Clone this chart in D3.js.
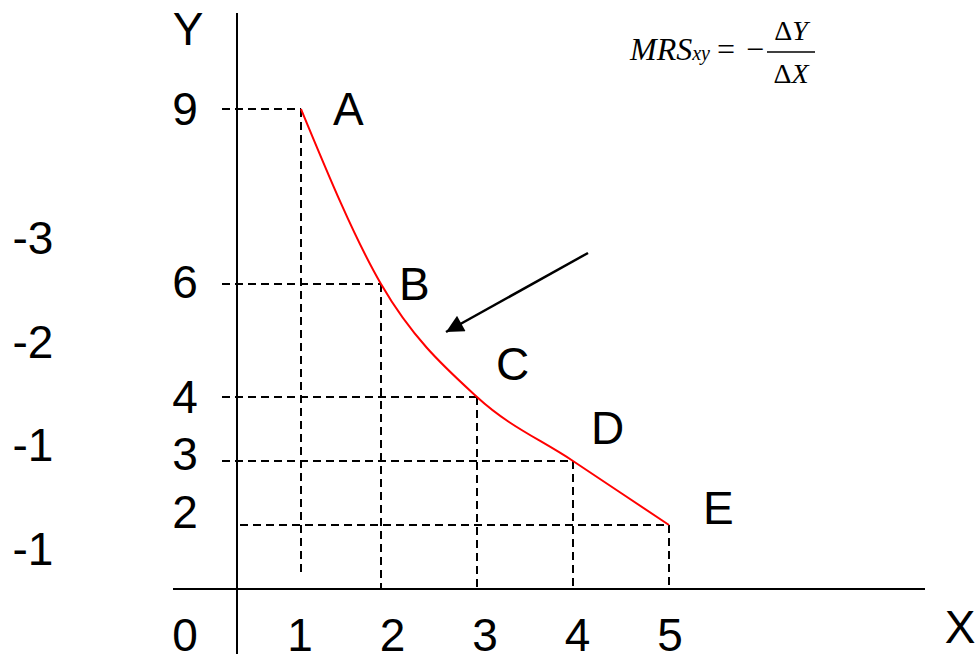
<!DOCTYPE html>
<html>
<head>
<meta charset="utf-8">
<script src="https://cdn.jsdelivr.net/npm/d3@7"></script>
<style>
  body { margin: 0; background: #fff; }
  svg { display: block; }
  text { font-family: "Liberation Sans", Arial, sans-serif; fill: #000; }
  text.serif { font-family: "Liberation Serif", "Times New Roman", serif; }
</style>
</head>
<body>
<svg id="chart" width="976" height="654"></svg>
<script>
// indifference curve points
const goodX = [1, 2, 3, 4, 5];
const goodY = [9, 6, 4, 3, 2];
const pointNames = ["A", "B", "C", "D", "E"];
// MRS between consecutive points
const mrsValues = ["-3", "-2", "-1", "-1"];
const xTickLabels = [1, 2, 3, 4, 5];
const yTickLabels = [9, 6, 4, 3, 2];

const svg = d3.select("#chart");

// hand drawn axes are not evenly spaced, so piecewise scales
const x = d3.scaleLinear()
    .domain([0, 1, 2, 3, 4, 5])
    .range([237, 301, 381, 477, 573, 669]);
const y = d3.scaleLinear()
    .domain([0, 2, 3, 4, 6, 9])
    .range([589, 525, 461, 397, 284, 109]);
// the tick labels sit on an even grid of their own
const xLab = d3.scaleLinear().domain([1, 5]).range([300, 670]);
const yLab = d3.scaleLinear().domain([2, 9]).range([528, 125]);
const mrsPos = d3.scaleLinear().domain([0, mrsValues.length - 1]).range([254, 565]);

const pts = goodX.map(function (d, i) {
    return {x: d, y: goodY[i], name: pointNames[i]};
});

// dashed guides
let guides = svg.append("g")
    .attr("stroke", "#000")
    .attr("stroke-width", 2)
    .attr("stroke-dasharray", "8,5");

guides.selectAll(".hguide")
    .data(pts)
    .enter().append("line")
    .attr("class", "hguide")
    .attr("x1", function (d) { return d.y == 2 ? x(0) + 3 : x(0) - 15; })
    .attr("x2", function (d) { return x(d.x); })
    .attr("y1", function (d) { return y(d.y); })
    .attr("y2", function (d) { return y(d.y); });

guides.selectAll(".vguide")
    .data(pts)
    .enter().append("line")
    .attr("class", "vguide")
    .attr("x1", function (d) { return x(d.x); })
    .attr("x2", function (d) { return x(d.x); })
    .attr("y1", function (d) { return y(d.y); })
    .attr("y2", function (d) { return d.x == 1 ? y(0) - 17 : y(0); });

// axes
svg.append("line")
    .attr("x1", x(0)).attr("x2", x(0))
    .attr("y1", 13).attr("y2", 654)
    .attr("stroke", "#000").attr("stroke-width", 2);
svg.append("line")
    .attr("x1", 173).attr("x2", 925)
    .attr("y1", y(0)).attr("y2", y(0))
    .attr("stroke", "#000").attr("stroke-width", 2);

// the curve
let line = d3.line()
    .x(function (d) { return x(d.x); })
    .y(function (d) { return y(d.y); })
    .curve(d3.curveMonotoneX);

svg.append("path")
    .datum(pts)
    .attr("d", line)
    .attr("fill", "none")
    .attr("stroke", "#ff0000")
    .attr("stroke-width", 2);

// point labels
const labelOffset = [[32, 16], [18, 16], [19, -17], [18, -17], [34, -1]];
svg.selectAll(".plabel")
    .data(pts)
    .enter().append("text")
    .attr("class", "plabel")
    .attr("x", function (d, i) { return x(d.x) + labelOffset[i][0]; })
    .attr("y", function (d, i) { return y(d.y) + labelOffset[i][1]; })
    .style("font-size", "46px")
    .text(function (d) { return d.name; });

// tick labels
svg.selectAll(".xtick")
    .data(xTickLabels)
    .enter().append("text")
    .attr("class", "xtick")
    .attr("x", function (d) { return xLab(d); })
    .attr("y", 651)
    .attr("text-anchor", "middle")
    .style("font-size", "46px")
    .text(function (d) { return d; });

svg.selectAll(".ytick")
    .data(yTickLabels)
    .enter().append("text")
    .attr("class", "ytick")
    .attr("x", 185)
    .attr("y", function (d) { return yLab(d); })
    .attr("text-anchor", "middle")
    .style("font-size", "46px")
    .text(function (d) { return d; });

svg.append("text")
    .attr("x", 185).attr("y", 651)
    .attr("text-anchor", "middle")
    .style("font-size", "46px")
    .text("0");

// axis names
svg.append("text").attr("x", 188).attr("y", 45)
    .attr("text-anchor", "middle").style("font-size", "46px").text("Y");
svg.append("text").attr("x", 960).attr("y", 643)
    .attr("text-anchor", "middle").style("font-size", "46px").text("X");

// MRS values on the left
svg.selectAll(".mrs")
    .data(mrsValues)
    .enter().append("text")
    .attr("class", "mrs")
    .attr("x", 33)
    .attr("y", function (d, i) { return mrsPos(i); })
    .attr("text-anchor", "middle")
    .style("font-size", "46px")
    .text(function (d) { return d; });

// arrow
svg.append("defs").append("marker")
    .attr("id", "head")
    .attr("viewBox", "0 0 10 10")
    .attr("refX", 10).attr("refY", 5)
    .attr("markerWidth", 8).attr("markerHeight", 7)
    .attr("markerUnits", "strokeWidth")
    .attr("orient", "auto")
    .append("path")
    .attr("d", "M0,0L10,5L0,10Z")
    .attr("fill", "#000");

svg.append("line")
    .attr("x1", 588).attr("y1", 253)
    .attr("x2", 446).attr("y2", 332)
    .attr("stroke", "#000").attr("stroke-width", 2.5)
    .attr("marker-end", "url(#head)");

// formula
let f = svg.append("g");
f.append("text").attr("class", "serif").attr("x", 630).attr("y", 60)
    .style("font-size", "32px").style("font-style", "italic")
    .text("MRS")
    .append("tspan").style("font-size", "20px").text("xy");
f.append("text").attr("class", "serif").attr("x", 717).attr("y", 60)
    .style("font-size", "32px").text("=");
f.append("text").attr("class", "serif").attr("x", 746).attr("y", 60)
    .style("font-size", "32px").text("\u2212");
f.append("line")
    .attr("x1", 767).attr("x2", 815)
    .attr("y1", 52).attr("y2", 52)
    .attr("stroke", "#000").attr("stroke-width", 1.5);
f.append("text").attr("class", "serif").attr("x", 791).attr("y", 40)
    .attr("text-anchor", "middle").style("font-size", "28px")
    .text("\u0394")
    .append("tspan").style("font-style", "italic").text("Y");
f.append("text").attr("class", "serif").attr("x", 791).attr("y", 83)
    .attr("text-anchor", "middle").style("font-size", "28px")
    .text("\u0394")
    .append("tspan").style("font-style", "italic").text("X");
</script>
</body>
</html>
